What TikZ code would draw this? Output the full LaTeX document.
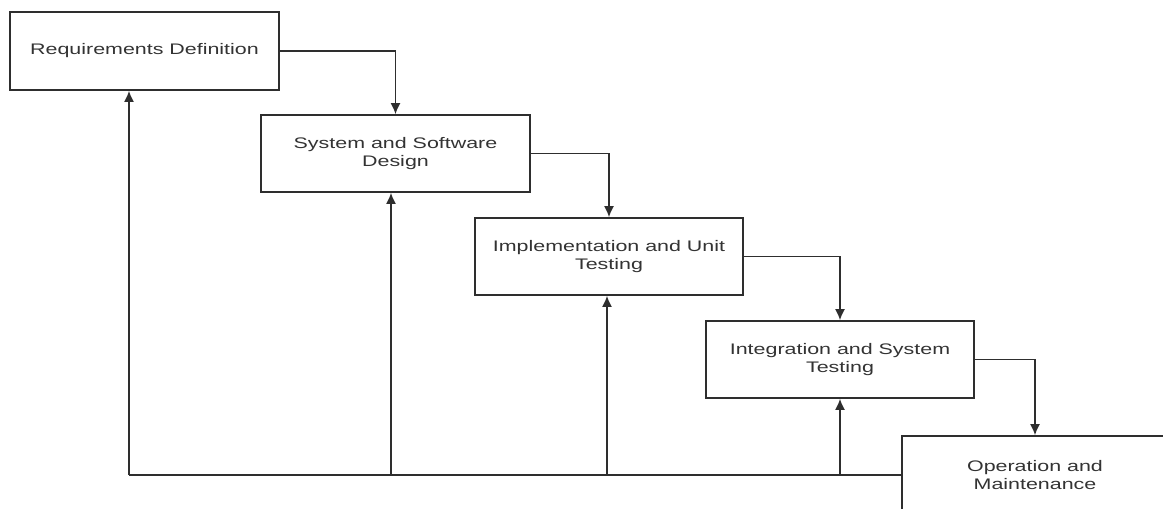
\documentclass[tikz,border=0pt]{standalone}
\usepackage{fontspec}
\setmainfont{Liberation Sans}[FakeStretch=1.4]
\usetikzlibrary{arrows.meta}
\definecolor{ln}{HTML}{2E2E2E}
\definecolor{tx}{HTML}{333333}
\begin{document}
\begin{tikzpicture}[x=1pt,y=-1pt,
  stage/.style={draw=ln,line width=1.6pt,rectangle,minimum width=268pt,minimum height=77pt,
    inner sep=0pt,align=center,text=tx,font=\fontsize{15.3}{18.5}\selectfont},
  conn/.style={draw=ln,line width=1.6pt,-{Latex[length=11pt,width=10pt]}},
  plain/.style={draw=ln,line width=1.6pt}]
\useasboundingbox (0,0) rectangle (1163,509);
\clip (0,0) rectangle (1163,509);
\fill[white] (0,0) rectangle (1163,509);
\node[stage,minimum width=269pt,minimum height=78pt] (b1) at (144.5,51) {Requirements Definition};
\node[stage,minimum width=269pt] (b2) at (395.5,153.5) {System and Software\\Design};
\node[stage] (b3) at (609,256.5) {Implementation and Unit\\Testing};
\node[stage] (b4) at (840,359.5) {Integration and System\\Testing};
\node[stage,minimum width=266pt,minimum height=78pt] (b5) at (1035,475) {Operation and\\Maintenance};
\draw[conn] (b1.east) -| (b2.north);
\draw[conn] (b2.east) -| (b3.north);
\draw[conn] (b3.east) -| (b4.north);
\draw[conn] (b4.east) -| (b5.north);
\coordinate (f1) at (129,475);
\coordinate (f2) at (391,475);
\coordinate (f3) at (607,475);
\coordinate (f4) at (840,475);
\draw[plain] (b5.west) -- (f1);
\draw[conn] (f1) -- (f1 |- b1.south);
\draw[conn] (f2) -- (f2 |- b2.south);
\draw[conn] (f3) -- (f3 |- b3.south);
\draw[conn] (f4) -- (f4 |- b4.south);
\end{tikzpicture}
\end{document}
